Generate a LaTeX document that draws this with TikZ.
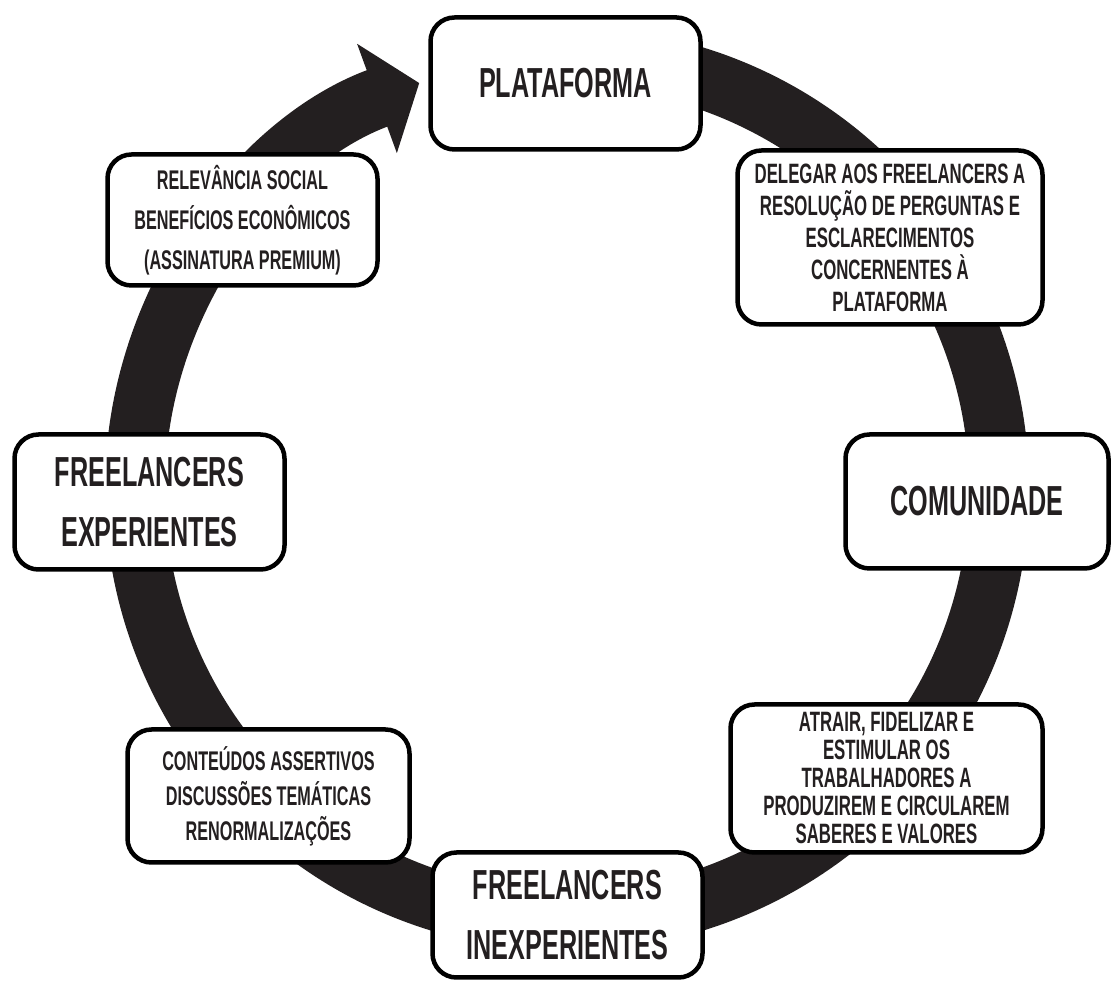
\documentclass[tikz,border=0pt]{standalone}
\usepackage{fontspec}
\setmainfont{Liberation Sans}[FakeStretch=0.6]
\usepackage{xcolor}
\usepackage{tikz}
\usetikzlibrary{arrows.meta}
\definecolor{ink}{HTML}{231F20}

\begin{document}
\begin{tikzpicture}[
    x=1pt,y=1pt,
    bx/.style={draw=black,line width=4.5pt,rounded corners=24pt,fill=white,text=ink,align=center,inner sep=0pt},
    big/.style={bx,font=\fontsize{42}{60}\selectfont\bfseries},
    small/.style={bx,font=\fontsize{27}{#1}\selectfont\bfseries},
    >=Latex
  ]
    \useasboundingbox (0,0) rectangle (1112,982);
    \coordinate (ctr) at (567,493);

    % the cycle ring
    \draw[ink,line width=60pt,-{Triangle[length=45pt,width=114pt]}]
      (ctr) ++(80:432) arc[start angle=80,end angle=-250,radius=432];

    \node[big,minimum width=270pt,minimum height=132pt] (plat) at (565.5,898.5) {PLATAFORMA};
    \node[small=32pt,font=\fontsize{28}{32}\selectfont\bfseries,minimum width=305pt,minimum height=174pt] (deleg) at (890,744.5)
      {DELEGAR AOS FREELANCERS A\\RESOLUÇÃO DE PERGUNTAS E\\ESCLARECIMENTOS\\CONCERNENTES À\\PLATAFORMA};
    \node[big,minimum width=263pt,minimum height=134pt] (comu) at (977,480.5) {COMUNIDADE};
    \node[small=28pt,font=\fontsize{28}{28}\selectfont\bfseries,minimum width=312pt,minimum height=148pt] (atra) at (886.5,203.5)
      {ATRAIR, FIDELIZAR E\\ESTIMULAR OS\\TRABALHADORES A\\PRODUZIREM E CIRCULAREM\\SABERES E VALORES};
    \node[big,minimum width=270pt,minimum height=125pt] (inexp) at (567.5,67) {FREELANCERS\\INEXPERIENTES};
    \node[small=35pt,minimum width=282pt,minimum height=133pt] (cont) at (268.5,186)
      {CONTEÚDOS ASSERTIVOS\\DISCUSSÕES TEMÁTICAS\\RENORMALIZAÇÕES};
    \node[big,minimum width=270pt,minimum height=135pt] (expe) at (149.5,480) {FREELANCERS\\EXPERIENTES};
    \node[small=40pt,minimum width=270pt,minimum height=131pt] (relev) at (242.5,762)
      {RELEVÂNCIA SOCIAL\\BENEFÍCIOS ECONÔMICOS\\(ASSINATURA PREMIUM)};
  \end{tikzpicture}
\end{document}
